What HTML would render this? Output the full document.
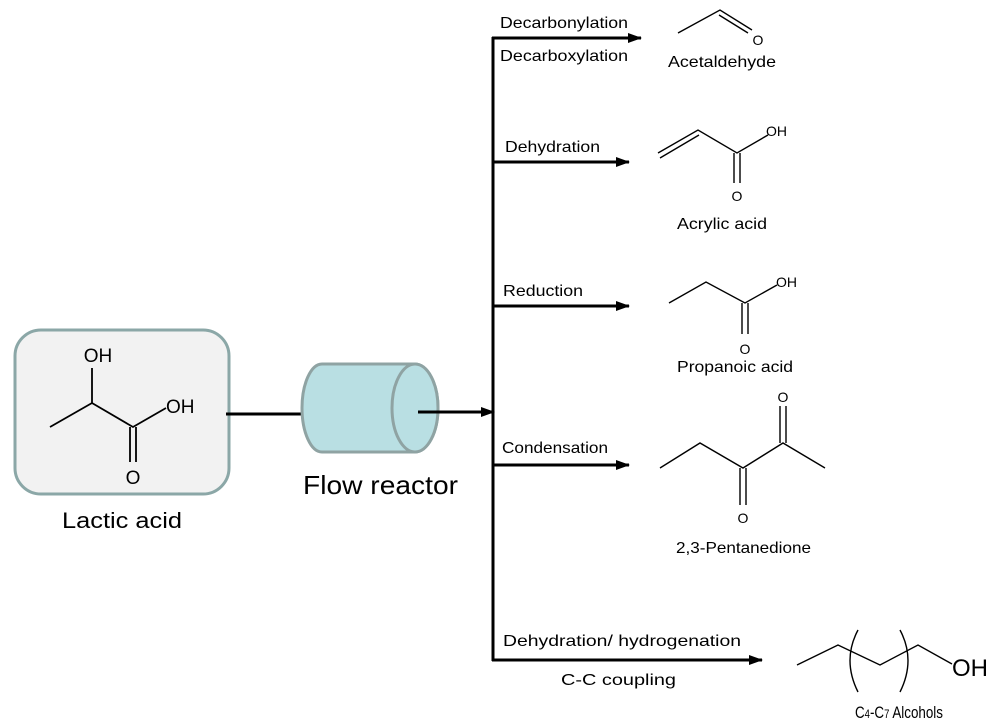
<!DOCTYPE html>
<html><head><meta charset="utf-8"><style>
html,body{margin:0;padding:0;background:#fff}
svg{display:block}
text{font-family:"Liberation Sans",Arial,sans-serif;fill:#000}
</style></head><body>
<svg width="1000" height="724" viewBox="0 0 1000 724" xmlns="http://www.w3.org/2000/svg">
<defs><marker id="a" markerWidth="14" markerHeight="10" refX="13" refY="5" orient="auto" markerUnits="userSpaceOnUse"><path d="M0,0 L14,5 L0,10 z" fill="#000"/></marker></defs>
<rect x="15" y="330" width="214" height="164" rx="26" fill="#f2f2f2" stroke="#8ba7a7" stroke-width="3"/>
<g stroke="#000" stroke-width="1.8" fill="none">
<path d="M50,427 L92,403 L133,427 L166,408"/>
<path d="M92,403 L92,368"/>
<path d="M130,427 L130,462 M136,427 L136,462"/>
</g>
<text x="98" y="362" font-size="19" text-anchor="middle">OH</text>
<text x="166" y="413" font-size="19">OH</text>
<text x="133" y="484" font-size="19" text-anchor="middle">O</text>
<text x="62" y="528" font-size="22" textLength="120" lengthAdjust="spacingAndGlyphs">Lactic acid</text>
<line x1="226" y1="414" x2="303" y2="414" stroke="#000" stroke-width="3"/>
<path d="M322,364 L415,364 A23,44 0 0 1 415,452 L322,452 A20,44 0 0 1 322,364 z" fill="#b9dfe3" stroke="#8fa3a3" stroke-width="3"/>
<ellipse cx="415" cy="408" rx="23" ry="44" fill="#b9dfe3" stroke="#8fa3a3" stroke-width="3"/>
<text x="303" y="494" font-size="26" textLength="155" lengthAdjust="spacingAndGlyphs">Flow reactor</text>
<line x1="418" y1="412" x2="494" y2="412" stroke="#000" stroke-width="3" marker-end="url(#a)"/>
<line x1="493" y1="37" x2="493" y2="661" stroke="#000" stroke-width="3"/>
<g stroke="#000" stroke-width="3">
<line x1="492" y1="38" x2="641" y2="38" marker-end="url(#a)"/>
<line x1="492" y1="162" x2="629" y2="162" marker-end="url(#a)"/>
<line x1="492" y1="306" x2="629" y2="306" marker-end="url(#a)"/>
<line x1="492" y1="465" x2="629" y2="465" marker-end="url(#a)"/>
<line x1="492" y1="660" x2="762" y2="660" marker-end="url(#a)"/>
</g>
<g font-size="16">
<text x="500" y="28" textLength="128" lengthAdjust="spacingAndGlyphs">Decarbonylation</text>
<text x="500" y="61" textLength="128" lengthAdjust="spacingAndGlyphs">Decarboxylation</text>
<text x="505" y="152" textLength="95" lengthAdjust="spacingAndGlyphs">Dehydration</text>
<text x="503" y="296" textLength="80" lengthAdjust="spacingAndGlyphs">Reduction</text>
<text x="502" y="453" textLength="106" lengthAdjust="spacingAndGlyphs">Condensation</text>
<text x="503" y="646" textLength="238" lengthAdjust="spacingAndGlyphs">Dehydration/ hydrogenation</text>
<text x="561" y="685" textLength="115" lengthAdjust="spacingAndGlyphs">C-C coupling</text>
</g>
<g stroke="#000" stroke-width="1.4" fill="none">
<path d="M678,33 L720,10 L752,30 M719,15 L748,33"/>
<path d="M658,153 L698,130 L737,153 L768,135 M660,158 L699,135 M734,153 L734,183 M740,153 L740,183"/>
<path d="M669,303 L706,282 L745,303 L777,285 M742,303 L742,334 M748,303 L748,334"/>
<path d="M660,468 L700,443 L743,468 L783,443 L825,468 M740,468 L740,505 M746,468 L746,505 M780,443 L780,406 M786,443 L786,406"/>
<path d="M797,665 L838,645 L880,665 L918,645 L952,664"/>
<path d="M858,630 Q842,660 858,692 M900,630 Q916,660 900,692"/>
</g>
<g font-size="14">
<text x="758" y="45" text-anchor="middle">O</text>
<text x="766" y="136">OH</text>
<text x="737" y="201" text-anchor="middle">O</text>
<text x="776" y="287">OH</text>
<text x="745" y="354" text-anchor="middle">O</text>
<text x="783" y="402" text-anchor="middle">O</text>
<text x="743" y="523" text-anchor="middle">O</text>
</g>
<g font-size="16">
<text x="668" y="67" textLength="108" lengthAdjust="spacingAndGlyphs">Acetaldehyde</text>
<text x="677" y="229" textLength="90" lengthAdjust="spacingAndGlyphs">Acrylic acid</text>
<text x="677" y="372" textLength="116" lengthAdjust="spacingAndGlyphs">Propanoic acid</text>
<text x="676" y="553" textLength="135" lengthAdjust="spacingAndGlyphs">2,3-Pentanedione</text>
<text x="855" y="718" font-size="17" textLength="88" lengthAdjust="spacingAndGlyphs">C<tspan font-size="12">4</tspan>-C<tspan font-size="12">7</tspan> Alcohols</text>
</g>
<text x="952" y="676" font-size="24">OH</text>
</svg>
</body></html>
